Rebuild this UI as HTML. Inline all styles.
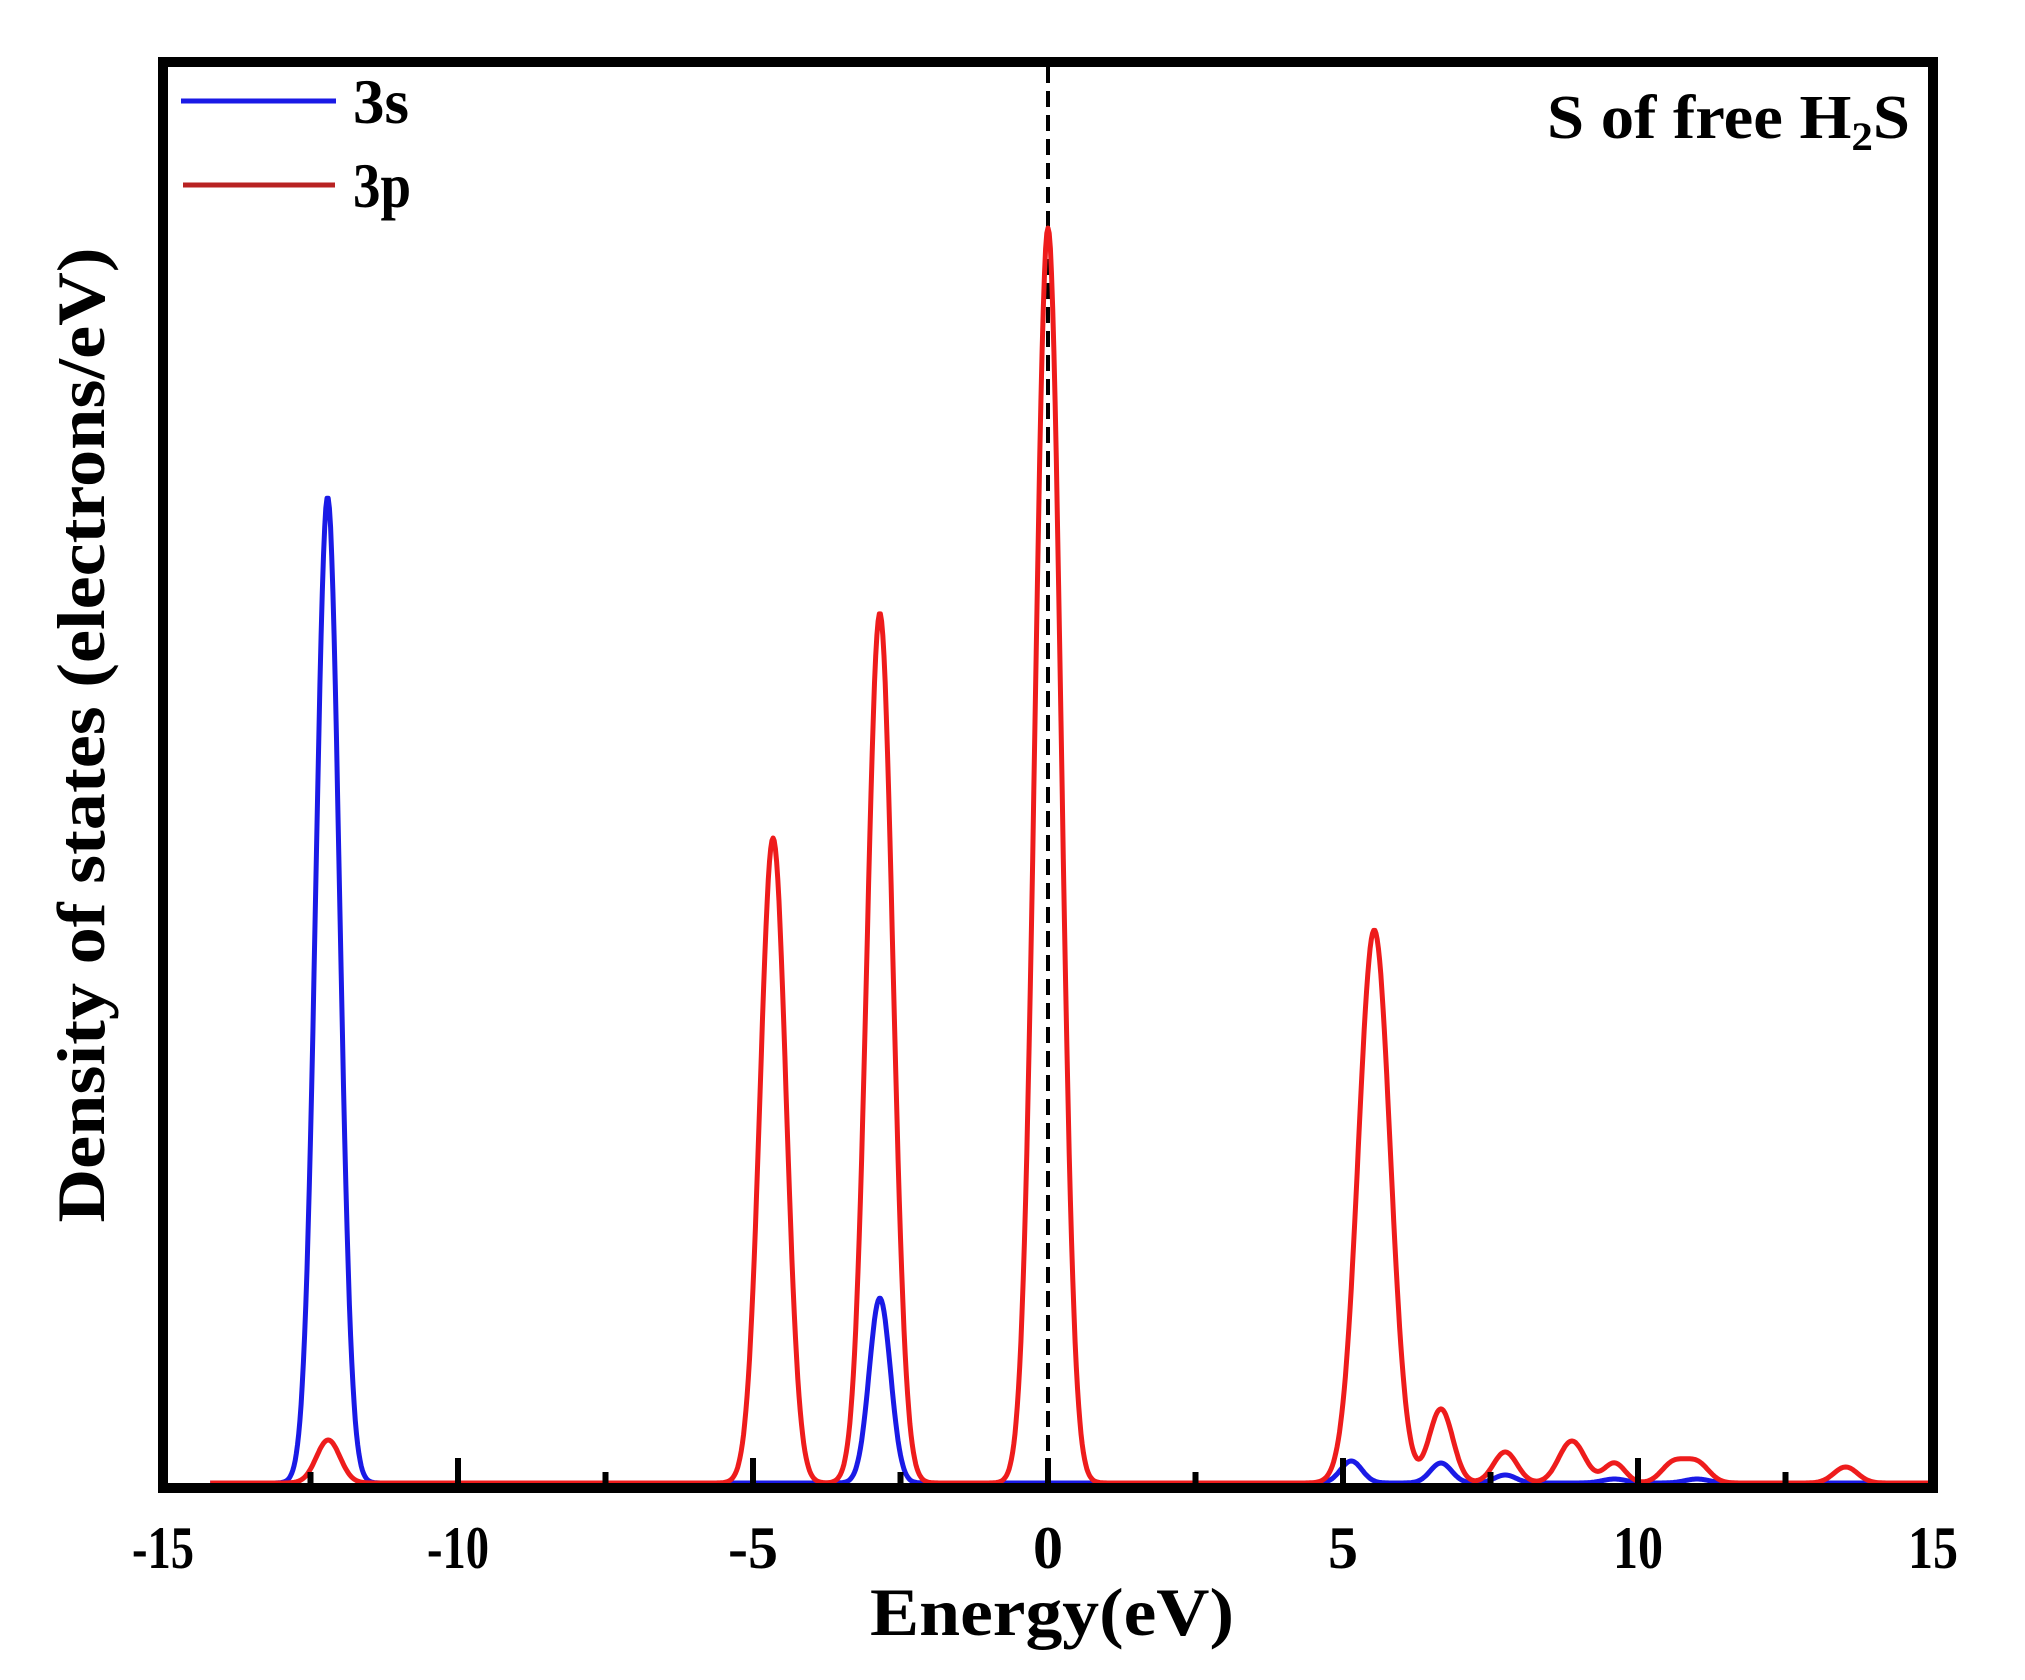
<!DOCTYPE html>
<html><head><meta charset="utf-8"><style>
html,body{margin:0;padding:0;background:#fff;}
svg{display:block;}
text{font-family:"Liberation Serif",serif;font-weight:bold;fill:#000;}
</style></head><body>
<svg id="s" width="2025" height="1680" viewBox="0 0 2025 1680" xmlns="http://www.w3.org/2000/svg">
<rect width="2025" height="1680" fill="#fff"/>
<line x1="1048" y1="67" x2="1048" y2="1483" stroke="#000" stroke-width="4" stroke-dasharray="16,8"/>
<path id="pb" fill="none" stroke="#1a1ae6" stroke-width="5" stroke-linejoin="round"/>
<path id="pr" fill="none" stroke="#ee1c1c" stroke-width="5" stroke-linejoin="round"/>
<g id="ticks" stroke="#000" stroke-width="6"></g>
<rect x="163" y="62" width="1770" height="1426" fill="none" stroke="#000" stroke-width="10"/>
<g font-size="60" text-anchor="middle">
<text x="163" y="1568" textLength="62" lengthAdjust="spacingAndGlyphs">-15</text><text x="458" y="1568" textLength="62" lengthAdjust="spacingAndGlyphs">-10</text><text x="753" y="1568">-5</text>
<text x="1048" y="1568">0</text><text x="1343" y="1568">5</text><text x="1638" y="1568" textLength="50" lengthAdjust="spacingAndGlyphs">10</text><text x="1933" y="1568" textLength="50" lengthAdjust="spacingAndGlyphs">15</text>
</g>
<text x="1052" y="1635" font-size="68" text-anchor="middle" textLength="364" lengthAdjust="spacingAndGlyphs">Energy(eV)</text>
<text transform="translate(104,735) rotate(-90)" font-size="68" text-anchor="middle" textLength="975" lengthAdjust="spacingAndGlyphs">Density of states (electrons/eV)</text>
<line x1="181" y1="101" x2="336" y2="101" stroke="#1a1ae6" stroke-width="5"/>
<line x1="183" y1="185" x2="335" y2="185" stroke="#b82222" stroke-width="5"/>
<text x="353" y="123" font-size="64" textLength="56" lengthAdjust="spacingAndGlyphs">3s</text>
<text x="353" y="207" font-size="64" textLength="58" lengthAdjust="spacingAndGlyphs">3p</text>
<text x="1547" y="138" font-size="62" textLength="363" lengthAdjust="spacingAndGlyphs">S of free H<tspan font-size="40" dy="12">2</tspan><tspan dy="-12">S</tspan></text>
</svg>
<script>
var X=function(e){return 163+(e+15)*59;},B=1483;
function path(pk,x0){var d="";for(var e=x0;e<=15.001;e+=0.02){var h=0;pk.forEach(function(p){h+=p[1]*Math.exp(-Math.pow(e-p[0],2)/(2*p[2]*p[2]));});d+=(d?"L":"M")+X(e).toFixed(1)+","+(B-h).toFixed(1);}return d;}
var red=[[-12.2,43,0.2],[-4.66,645,0.22],[-2.85,870,0.22],[0,1255,0.22],[5.53,553,0.27],[6.66,74,0.2],[7.75,31,0.2],[8.88,42,0.22],[9.6,20,0.18],[10.6,20,0.2],[11.0,20,0.2],[13.52,16,0.2]];
var blue=[[-12.21,986,0.2],[-2.85,185,0.18],[5.14,22,0.18],[6.66,20,0.18],[7.75,8,0.18],[9.6,4,0.2],[11,4,0.2]];
document.getElementById("pr").setAttribute("d",path(red,-14.2));
document.getElementById("pb").setAttribute("d",path(blue,-14.2));
var g=document.getElementById("ticks"),s="";
[-10,-5,0,5,10].forEach(function(e){s+='<line x1="'+X(e)+'" y1="1458" x2="'+X(e)+'" y2="1488"/>';});
[-12.5,-7.5,-2.5,2.5,7.5,12.5].forEach(function(e){s+='<line x1="'+X(e)+'" y1="1472" x2="'+X(e)+'" y2="1488"/>';});
g.innerHTML=s;
</script>
</body></html>
